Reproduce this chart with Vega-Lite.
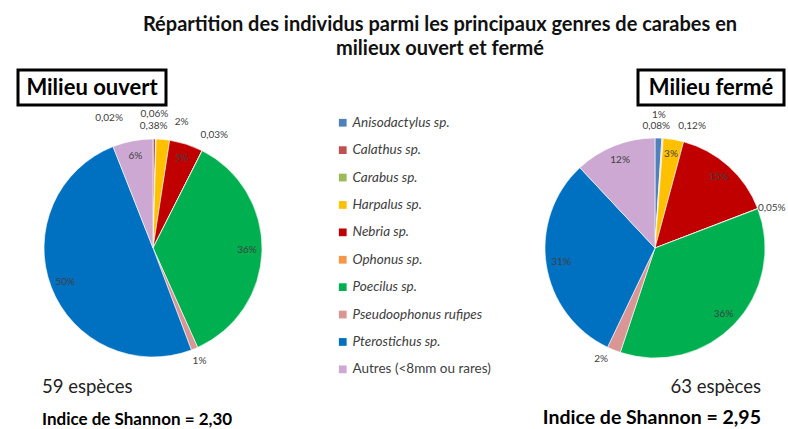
{
  "$schema": "https://vega.github.io/schema/vega-lite/v6.json",
  "padding": {"left": 16, "top": 14, "right": 5, "bottom": 0},
  "background": "white",
  "config": {"view": {"stroke": null}, "font": "Lato"},
  "title": {
    "text": ["Répartition des individus parmi les principaux genres de carabes en", "milieux ouvert et fermé"],
    "font": "Lato", "fontSize": 20, "fontWeight": "bold", "color": "#111111",
    "anchor": "start", "align": "center", "frame": "group", "dx": 422, "lineHeight": 24, "offset": 10
  },
  "datasets": {
    "ouvert": [
      {"genre": "Anisodactylus sp.", "ordre": 1, "pct": 0.02, "label": "0,02%"},
      {"genre": "Calathus sp.", "ordre": 2, "pct": 0.38, "label": "0,38%"},
      {"genre": "Carabus sp.", "ordre": 3, "pct": 0.06, "label": "0,06%"},
      {"genre": "Harpalus sp.", "ordre": 4, "pct": 2, "label": "2%"},
      {"genre": "Nebria sp.", "ordre": 5, "pct": 5, "label": "5%"},
      {"genre": "Ophonus sp.", "ordre": 6, "pct": 0.03, "label": "0,03%"},
      {"genre": "Poecilus sp.", "ordre": 7, "pct": 36, "label": "36%"},
      {"genre": "Pseudoophonus rufipes", "ordre": 8, "pct": 1, "label": "1%"},
      {"genre": "Pterostichus sp.", "ordre": 9, "pct": 50, "label": "50%"},
      {"genre": "Autres (<8mm ou rares)", "ordre": 10, "pct": 6, "label": "6%"}
    ],
    "ferme": [
      {"genre": "Anisodactylus sp.", "ordre": 1, "pct": 1, "label": "1%"},
      {"genre": "Calathus sp.", "ordre": 2, "pct": 0.08, "label": "0,08%"},
      {"genre": "Carabus sp.", "ordre": 3, "pct": 0.12, "label": "0,12%"},
      {"genre": "Harpalus sp.", "ordre": 4, "pct": 3, "label": "3%"},
      {"genre": "Nebria sp.", "ordre": 5, "pct": 15, "label": "15%"},
      {"genre": "Ophonus sp.", "ordre": 6, "pct": 0.05, "label": "0,05%"},
      {"genre": "Poecilus sp.", "ordre": 7, "pct": 36, "label": "36%"},
      {"genre": "Pseudoophonus rufipes", "ordre": 8, "pct": 2, "label": "2%"},
      {"genre": "Pterostichus sp.", "ordre": 9, "pct": 31, "label": "31%"},
      {"genre": "Autres (<8mm ou rares)", "ordre": 10, "pct": 12, "label": "12%"}
    ]
  },
  "spacing": 68,
  "bounds": "flush",
  "vconcat": [
    {
      "spacing": 472,
      "bounds": "flush",
      "hconcat": [
        {
          "width": 148, "height": 35,
          "view": {"stroke": "black", "strokeWidth": 3},
          "data": {"values": [{"t": "Milieu ouvert"}]},
          "mark": {"type": "text", "font": "Lato", "fontSize": 22, "fontWeight": "bold", "color": "black"},
          "encoding": {"text": {"field": "t"}}
        },
        {
          "width": 146, "height": 35,
          "view": {"stroke": "black", "strokeWidth": 3},
          "data": {"values": [{"t": "Milieu fermé"}]},
          "mark": {"type": "text", "font": "Lato", "fontSize": 22, "fontWeight": "bold", "color": "black"},
          "encoding": {"text": {"field": "t"}}
        }
      ]
    },
    {
      "spacing": 257,
      "bounds": "flush",
      "hconcat": [
        {
          "width": 270, "height": 220,
          "data": {"name": "ouvert"},
          "title": {
            "text": "59 espèces", "subtitle": "Indice de Shannon = 2,30",
            "orient": "bottom", "anchor": "start", "frame": "group", "dx": 24, "offset": 3,
            "font": "Lato", "fontSize": 18.5, "fontWeight": "normal", "color": "#222222",
            "subtitleFont": "Lato", "subtitleFontSize": 17, "subtitleFontWeight": "bold", "subtitleColor": "black", "subtitlePadding": 15
          },
          "encoding": {
            "theta": {"field": "pct", "type": "quantitative", "stack": "normalize"},
            "order": {"field": "ordre", "type": "quantitative"}
          },
          "layer": [
            {
              "mark": {"type": "arc", "radius": 109, "stroke": "white", "strokeWidth": 0.6},
              "encoding": {
                "color": {
                  "field": "genre", "type": "nominal",
                  "scale": {
                    "domain": ["Anisodactylus sp.", "Calathus sp.", "Carabus sp.", "Harpalus sp.", "Nebria sp.", "Ophonus sp.", "Poecilus sp.", "Pseudoophonus rufipes", "Pterostichus sp.", "Autres (<8mm ou rares)"],
                    "range": ["#4F81BD", "#C0504D", "#9BBB59", "#FFC000", "#C00000", "#F79646", "#00B050", "#D99694", "#0070C0", "#CCA8D2"]
                  },
                  "legend": {
                    "orient": "none", "legendX": 318, "legendY": 46, "title": null,
                    "symbolType": "square", "symbolSize": 60, "symbolStrokeWidth": 0,
                    "labelFont": "Lato", "labelFontSize": 13.5, "labelColor": "#404040",
                    "labelFontStyle": {"expr": "datum.label == 'Autres (<8mm ou rares)' ? 'normal' : 'italic'"},
                    "labelOffset": 3, "rowPadding": 12.4, "labelLimit": 250
                  }
                }
              }
            },
            {
              "mark": {"type": "text", "radius": 94, "fontSize": 10, "color": "#404040"},
              "encoding": {"detail": {"field": "genre"}, "text": {"condition": {"test": "datum.pct >= 2.5", "field": "label"}, "value": ""}}
            },
            {
              "mark": {"type": "text", "radius": 127, "dx": 17, "fontSize": 10, "color": "#404040"},
              "encoding": {"detail": {"field": "genre"}, "text": {"condition": {"test": "datum.genre == 'Harpalus sp.'", "field": "label"}, "value": ""}}
            },
            {
              "mark": {"type": "text", "radius": 127, "dx": 4, "fontSize": 10, "color": "#404040"},
              "encoding": {"detail": {"field": "genre"}, "text": {"condition": {"test": "datum.genre == 'Ophonus sp.'", "field": "label"}, "value": ""}}
            },
            {
              "mark": {"type": "text", "radius": 122, "fontSize": 10, "color": "#404040"},
              "encoding": {"detail": {"field": "genre"}, "text": {"condition": {"test": "datum.genre == 'Pseudoophonus rufipes'", "field": "label"}, "value": ""}}
            },
            {
              "mark": {"type": "text", "radius": 127, "dx": {"expr": "datum.genre == 'Anisodactylus sp.' ? -44 : 0"}, "dy": -3, "fontSize": 10, "color": "#404040"},
              "encoding": {"detail": {"field": "genre"}, "text": {"condition": {"test": "datum.genre == 'Anisodactylus sp.'", "field": "label"}, "value": ""}}
            },
            {
              "mark": {"type": "text", "radius": 127, "dx": -1, "dy": 5, "fontSize": 10, "color": "#404040"},
              "encoding": {"detail": {"field": "genre"}, "text": {"condition": {"test": "datum.genre == 'Calathus sp.'", "field": "label"}, "value": ""}}
            },
            {
              "mark": {"type": "text", "radius": 127, "dx": -2, "dy": -7, "fontSize": 10, "color": "#404040"},
              "encoding": {"detail": {"field": "genre"}, "text": {"condition": {"test": "datum.genre == 'Carabus sp.'", "field": "label"}, "value": ""}}
            }
          ]
        },
        {
          "width": 220, "height": 220,
          "data": {"name": "ferme"},
          "title": {
            "text": "63 espèces", "subtitle": "Indice de Shannon = 2,95",
            "orient": "bottom", "anchor": "end", "frame": "group", "dx": -4, "offset": 2,
            "font": "Lato", "fontSize": 18.5, "fontWeight": "normal", "color": "#222222",
            "subtitleFont": "Lato", "subtitleFontSize": 19.5, "subtitleFontWeight": "bold", "subtitleColor": "black", "subtitlePadding": 13
          },
          "encoding": {
            "theta": {"field": "pct", "type": "quantitative", "stack": "normalize"},
            "order": {"field": "ordre", "type": "quantitative"}
          },
          "layer": [
            {
              "mark": {"type": "arc", "radius": 110, "stroke": "white", "strokeWidth": 0.6},
              "encoding": {"color": {"field": "genre", "type": "nominal"}}
            },
            {
              "mark": {"type": "text", "radius": 95, "fontSize": 10, "color": "#404040"},
              "encoding": {"detail": {"field": "genre"}, "text": {"condition": {"test": "datum.pct >= 2.5", "field": "label"}, "value": ""}}
            },
            {
              "mark": {"type": "text", "radius": 127, "dy": -6, "fontSize": 10, "color": "#404040"},
              "encoding": {"detail": {"field": "genre"}, "text": {"condition": {"test": "datum.genre == 'Anisodactylus sp.'", "field": "label"}, "value": ""}}
            },
            {
              "mark": {"type": "text", "radius": 127, "dx": -7, "dy": 5, "fontSize": 10, "color": "#404040"},
              "encoding": {"detail": {"field": "genre"}, "text": {"condition": {"test": "datum.genre == 'Calathus sp.'", "field": "label"}, "value": ""}}
            },
            {
              "mark": {"type": "text", "radius": 127, "dx": 28, "dy": 5, "fontSize": 10, "color": "#404040"},
              "encoding": {"detail": {"field": "genre"}, "text": {"condition": {"test": "datum.genre == 'Carabus sp.'", "field": "label"}, "value": ""}}
            },
            {
              "mark": {"type": "text", "radius": 125, "dy": 5, "fontSize": 10, "color": "#404040"},
              "encoding": {"detail": {"field": "genre"}, "text": {"condition": {"test": "datum.genre == 'Ophonus sp.'", "field": "label"}, "value": ""}}
            },
            {
              "mark": {"type": "text", "radius": 125, "dx": -7, "dy": -5, "fontSize": 10, "color": "#404040"},
              "encoding": {"detail": {"field": "genre"}, "text": {"condition": {"test": "datum.genre == 'Pseudoophonus rufipes'", "field": "label"}, "value": ""}}
            }
          ]
        }
      ]
    }
  ]
}
